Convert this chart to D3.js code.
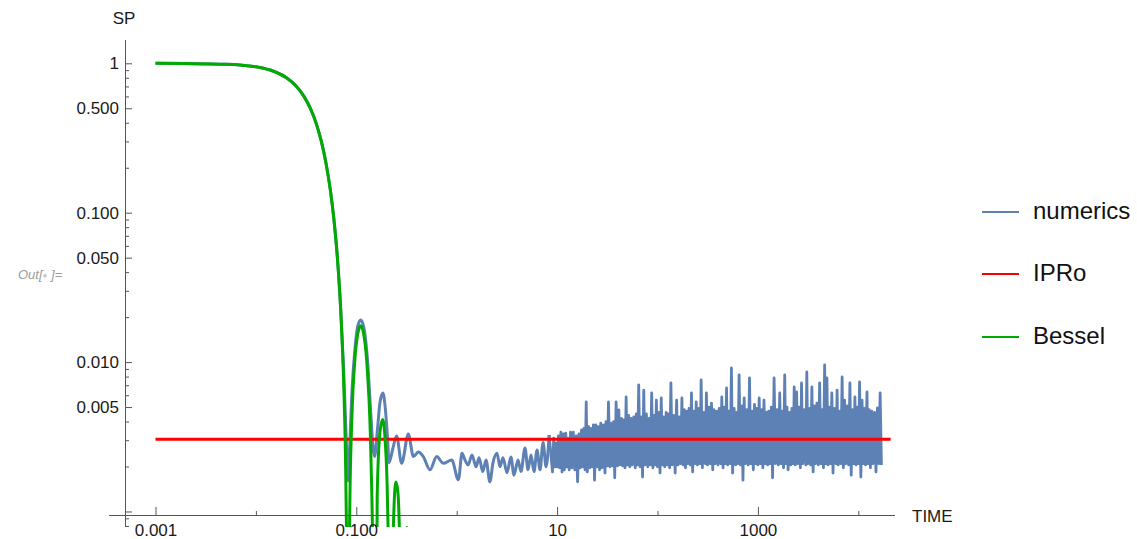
<!DOCTYPE html>
<meta charset="utf-8">
<title>SP vs TIME</title>
<style>
body { margin: 0; background: #fff; }
text { font-family: "Liberation Sans", Arial, sans-serif; }
.axis text { font-size: 17px; fill: #1a1a1a; }
.axis line { stroke: #555; }
</style>
<body>
<svg id="chart" width="1137" height="539"></svg>
<script src="https://cdn.jsdelivr.net/npm/d3@7"></script>
<script>
// ---- data ----
// numerics, smooth part (coincides with Bessel early on)
var numT  = [0.001, 0.002, 0.005, 0.01, 0.015, 0.02, 0.025, 0.03, 0.035, 0.04, 0.045, 0.05, 0.055, 0.06, 0.065, 0.07, 0.075, 0.078, 0.0805, 0.0835,
             0.0862, 0.0905, 0.097, 0.1035, 0.1107, 0.1185, 0.1293, 0.1401, 0.1466, 0.152, 0.1616, 0.1724, 0.1843, 0.194, 0.2047, 0.212,
             0.23, 0.252, 0.283, 0.33, 0.37, 0.415, 0.465, 0.542, 0.632, 0.736, 0.892, 1.04, 1.13, 1.21, 1.3, 1.42, 1.56, 1.67, 1.82, 1.96,
             2.14, 2.3, 2.52, 2.7, 2.89, 3.17, 3.47, 3.72, 4.08, 4.37, 4.79, 5.13, 5.5, 5.89, 6.31, 6.76, 7.25, 7.77, 8.33];
var numSP = [0.9989, 0.9957, 0.9865, 0.9474, 0.8848, 0.8032, 0.7073, 0.6031, 0.4965, 0.393, 0.2976, 0.2137, 0.1437, 0.0889, 0.0488, 0.0222, 0.0085, 0.0042, 0.0024, 0.0016,
             0.0028, 0.0063, 0.0123, 0.0175, 0.0191, 0.0172, 0.0103, 0.0043, 0.0027, 0.00233, 0.0034, 0.0054, 0.0062, 0.005, 0.0031, 0.00212,
             0.0026, 0.0032, 0.0021, 0.0033, 0.00233, 0.0025, 0.00233, 0.0019, 0.00233, 0.0021, 0.00221, 0.00163, 0.00245, 0.00221, 0.00205, 0.00239, 0.00199, 0.00229, 0.00185, 0.00221,
             0.00158, 0.00212, 0.00245, 0.00199, 0.00229, 0.00182, 0.00232, 0.00175, 0.00221, 0.00185, 0.00266, 0.0019, 0.00239, 0.00185, 0.00258, 0.0019, 0.0029, 0.00199, 0.00325];
// numerics, noisy tail
var tailT = [9, 9.25, 9.5, 9.75,
  10, 10.3, 10.6, 10.9, 11.2, 11.5, 11.8, 12.2, 12.5, 12.8, 13.2, 13.6, 14, 14.5, 15, 15.5, 16, 16.5, 17, 17.5,
  18, 18.5, 19, 19.5, 20, 20.6, 21.2, 21.8, 22.4, 23, 23.6, 24.3, 25, 25.8, 26.5, 27.2, 28, 29, 30, 30.7,
  31.5, 32.5, 33.5, 34.5, 35.5, 36.5, 37.5, 38.7, 40, 41.2, 42.5, 43.7, 45, 46.2, 47.5, 48.7, 50, 51.5, 53, 54.5,
  56, 58, 60, 61.5, 63, 65, 67, 69, 71, 73, 75, 77.5, 80, 82.5, 85, 87.5, 90, 92.5, 95, 97.5,
  100, 103, 106, 109, 112, 115, 118, 122, 125, 128, 132, 136, 140, 145, 150, 155, 160, 165, 170, 175,
  180, 185, 190, 195, 200, 206, 212, 218, 224, 230, 236, 243, 250, 258, 265, 272, 280, 290, 300, 307,
  315, 325, 335, 345, 355, 365, 375, 387, 400, 412, 425, 437, 450, 462, 475, 487, 500, 515, 530, 545,
  560, 580, 600, 615, 630, 650, 670, 690, 710, 730, 750, 775, 800, 825, 850, 875, 900, 925, 950, 975,
  1000, 1030, 1060, 1090, 1120, 1150, 1180, 1220, 1250, 1280, 1320, 1360, 1400, 1450, 1500, 1550, 1600, 1650, 1700, 1750,
  1800, 1850, 1900, 1950, 2000, 2060, 2120, 2180, 2240, 2300, 2360, 2430, 2500, 2580, 2650, 2720, 2800, 2900, 3000, 3070,
  3150, 3250, 3350, 3450, 3550, 3650, 3750, 3870, 4000, 4120, 4250, 4370, 4500, 4620, 4750, 4870, 5000, 5150, 5300, 5450,
  5600, 5800, 6000, 6150, 6300, 6500, 6700, 6900, 7100, 7300, 7500, 7750, 8000, 8250, 8500, 8750, 9000, 9250, 9500, 9750,
  10000, 10300, 10600, 10900, 11200, 11500, 11800, 12200, 12500, 12800, 13200, 13600, 14000, 14500, 15000, 15500, 16000, 16500, 17000];
var tailSP = [0.00184, 0.0031, 0.00199, 0.00287, 0.00199, 0.0032, 0.00196, 0.0034, 0.00184, 0.0033,
  0.0019, 0.00335, 0.00199, 0.0031, 0.0019, 0.0034, 0.00196, 0.0034, 0.0019, 0.0032,
  0.00158, 0.0033, 0.00196, 0.00351, 0.00199, 0.0036, 0.0019, 0.00541, 0.00184, 0.0037,
  0.00196, 0.0036, 0.00199, 0.0038, 0.00162, 0.0038, 0.00199, 0.0037, 0.0019, 0.0039,
  0.00196, 0.0038, 0.00181, 0.004, 0.00202, 0.00541, 0.00199, 0.0039, 0.00202, 0.004,
  0.00168, 0.00541, 0.00202, 0.00478, 0.00205, 0.0042, 0.00202, 0.0041, 0.00196, 0.00584,
  0.00205, 0.0044, 0.00199, 0.0042, 0.00205, 0.0043, 0.00196, 0.0045, 0.00205, 0.00703,
  0.00199, 0.0043, 0.0017, 0.0065, 0.00205, 0.0045, 0.00199, 0.0042, 0.00205, 0.00621,
  0.00196, 0.0044, 0.00205, 0.00557, 0.00199, 0.0046, 0.00181, 0.00575, 0.00205, 0.0043,
  0.00199, 0.0046, 0.00205, 0.0045, 0.00196, 0.00725, 0.00205, 0.0044, 0.00181, 0.00557,
  0.00205, 0.0043, 0.00209, 0.00575, 0.00205, 0.0048, 0.00196, 0.0047, 0.00209, 0.0049,
  0.00205, 0.00621, 0.00184, 0.0047, 0.00209, 0.00541, 0.00205, 0.0049, 0.00209, 0.00759,
  0.00196, 0.0046, 0.00209, 0.00621, 0.00205, 0.005, 0.00209, 0.00532, 0.0019, 0.0048,
  0.00209, 0.0047, 0.00205, 0.0049, 0.00209, 0.00584, 0.00196, 0.005, 0.00209, 0.00671,
  0.00205, 0.0047, 0.00209, 0.00913, 0.00181, 0.0049, 0.00205, 0.0046, 0.00209, 0.0082,
  0.00205, 0.0051, 0.00162, 0.00575, 0.00209, 0.0048, 0.00205, 0.00783, 0.00209, 0.0047,
  0.0019, 0.0052, 0.00209, 0.0049, 0.00205, 0.00575, 0.00209, 0.0048, 0.00196, 0.00557,
  0.00209, 0.0046, 0.00205, 0.0047, 0.00209, 0.005, 0.00168, 0.00783, 0.00209, 0.0048,
  0.00205, 0.00621, 0.00209, 0.0047, 0.00196, 0.0082, 0.00209, 0.005, 0.0019, 0.0046,
  0.00205, 0.0049, 0.00209, 0.00681, 0.00205, 0.00631, 0.00209, 0.005, 0.00196, 0.00725,
  0.00209, 0.0048, 0.00205, 0.00859, 0.00209, 0.0049, 0.00205, 0.00681, 0.00184, 0.0051,
  0.00209, 0.00532, 0.00205, 0.00725, 0.00209, 0.0048, 0.00196, 0.00957, 0.00209, 0.00783,
  0.00205, 0.005, 0.00209, 0.00621, 0.00181, 0.0049, 0.00209, 0.0065, 0.00205, 0.0047,
  0.00209, 0.00795, 0.00196, 0.00557, 0.00209, 0.0051, 0.00205, 0.00725, 0.00175, 0.0048,
  0.00209, 0.00584, 0.00205, 0.005, 0.00209, 0.00736, 0.0017, 0.00557, 0.00209, 0.0049,
  0.00205, 0.00631, 0.00209, 0.0048, 0.00196, 0.0047, 0.00209, 0.0046, 0.00184, 0.00493,
  0.00209, 0.00621, 0.00205];
// Bessel (falls to zero between the lobes)
var besT  = [0.001, 0.002, 0.005, 0.01, 0.015, 0.02, 0.025, 0.03, 0.035, 0.04, 0.045, 0.05, 0.055, 0.06, 0.065, 0.07, 0.075, 0.078, 0.08, 0.0815,
             0.0826, 0.0841, 0.0862, 0.0905, 0.097, 0.1034, 0.1078, 0.1107, 0.1185, 0.1293, 0.1401, 0.1466, 0.1512, 0.1616, 0.1724, 0.1832,
             0.194, 0.2047, 0.2155, 0.2193, 0.2263, 0.2371, 0.2478, 0.2586, 0.2694, 0.2802, 0.2872, 0.3, 0.319, 0.335, 0.355];
var besSP = [0.9989, 0.9957, 0.9865, 0.9474, 0.8848, 0.8032, 0.7073, 0.6031, 0.4965, 0.393, 0.2976, 0.2137, 0.1437, 0.0889, 0.0488, 0.0222, 0.00702, 0.00234, 0.000686, 0.000112,
             0.000001, 0.000199, 0.001089, 0.004356, 0.01055, 0.01547, 0.01717, 0.0175, 0.01541, 0.008507, 0.00224, 0.000362, 0.000001, 0.0013, 0.00344, 0.00413,
             0.002971, 0.001153, 0.0000757, 0.000001, 0.000226, 0.001033, 0.001578, 0.001386, 0.000701, 0.000117, 0.000001, 0.0003, 0.00078, 0.0004, 0.000001];
// IPRo constant level
var iproT  = [0.001, 21000];
var iproSP = [0.00305, 0.00305];

var xMajor = [0.001, 0.1, 10, 1000];
var xLabels = ["0.001", "0.100", "10", "1000"];
var xMinor = [0.01, 1, 100, 10000];
var yMajor = [1, 0.5, 0.1, 0.05, 0.01, 0.005, 0.001];
var yLabels = ["1", "0.500", "0.100", "0.050", "0.010", "0.005", ""];
var yMinor = [0.9, 0.8, 0.7, 0.6, 0.4, 0.3, 0.2, 0.09, 0.08, 0.07, 0.06, 0.04, 0.03, 0.02,
              0.009, 0.008, 0.007, 0.006, 0.004, 0.003, 0.002, 0.0009, 0.0008];

var seriesNames = ["numerics", "IPRo", "Bessel"];
var seriesColors = ["#5e81b5", "#ff0000", "#00aa00"];

// ---- drawing ----
var svg = d3.select("#chart");

var x = d3.scaleLog().domain([3.443e-4, 23204]).range([109, 895]);
var y = d3.scaleLog().domain([7.873e-4, 1.432]).range([527, 40]);
var axisT = 5e-4, axisSP = 9.475e-4;   // where the axes cross

svg.append("clipPath").attr("id", "plotclip")
  .append("rect").attr("x", 100).attr("y", 30).attr("width", 800).attr("height", 497);

function zip(ts, vs) { return ts.map(function(t, i) { return [t, vs[i]]; }); }

var smooth = d3.line()
    .x(function(d) { return x(d[0]); })
    .y(function(d) { return y(d[1]); })
    .curve(d3.curveMonotoneX);
var jagged = d3.line()
    .x(function(d) { return x(d[0]); })
    .y(function(d) { return y(d[1]); });

var numPts = zip(numT, numSP);
var plot = svg.append("g").attr("clip-path", "url(#plotclip)")
    .attr("fill", "none").attr("stroke-linejoin", "round");
plot.append("path")
    .datum(numPts)
    .attr("d", smooth)
    .attr("stroke", seriesColors[0]).attr("stroke-width", 3);
plot.append("path")
    .datum([numPts[numPts.length - 1]].concat(zip(tailT, tailSP)))
    .attr("d", jagged)
    .attr("stroke", seriesColors[0]).attr("stroke-width", 2.8);
plot.append("path")
    .datum(zip(iproT, iproSP))
    .attr("d", jagged)
    .attr("stroke", seriesColors[1]).attr("stroke-width", 3);
plot.append("path")
    .datum(zip(besT, besSP))
    .attr("d", smooth)
    .attr("stroke", seriesColors[2]).attr("stroke-width", 3);

// x axis
var gx = svg.append("g").attr("class", "axis")
    .attr("transform", "translate(0," + Math.round(y(axisSP)) + ")")
    .call(d3.axisBottom(x)
      .tickValues(xMajor.concat(xMinor))
      .tickSize(-8).tickPadding(9)
      .tickFormat(function(d) { var i = xMajor.indexOf(d); return i >= 0 ? xLabels[i] : ""; }));
gx.select(".domain").remove();
gx.selectAll(".tick line").filter(function(d) { return xMajor.indexOf(d) < 0; }).attr("y2", -4);
gx.append("line").attr("x1", x.range()[0]).attr("x2", x.range()[1]).attr("y1", 0.5).attr("y2", 0.5);

// y axis
var gy = svg.append("g").attr("class", "axis")
    .attr("transform", "translate(" + Math.round(x(axisT)) + ",0)")
    .call(d3.axisLeft(y)
      .tickValues(yMajor.concat(yMinor))
      .tickSize(-7).tickPadding(6)
      .tickFormat(function(d) { var i = yMajor.indexOf(d); return i >= 0 ? yLabels[i] : ""; }));
gy.select(".domain").remove();
gy.selectAll(".tick line").filter(function(d) { return yMajor.indexOf(d) < 0; }).attr("x2", 4);
gy.append("line").attr("x1", 0.5).attr("x2", 0.5).attr("y1", y.range()[1]).attr("y2", y.range()[0]);

// axis titles
svg.append("text").attr("x", 912).attr("y", 522)
    .attr("font-size", 17).attr("fill", "#1a1a1a").text("TIME");
svg.append("text").attr("x", 124).attr("y", 24).attr("text-anchor", "middle")
    .attr("font-size", 17).attr("fill", "#1a1a1a").text("SP");

// Mathematica output label
var outLabel = svg.append("text").attr("x", 18).attr("y", 279)
    .attr("font-size", 13).attr("font-style", "italic").attr("fill", "#9a9a9a");
outLabel.append("tspan").text("Out[");
outLabel.append("tspan").attr("font-size", 8).attr("fill", "#c8c8c8").attr("dy", -1).text("\u25CF");
outLabel.append("tspan").attr("dy", 1).text(" ]=");

// legend
var legendY = [212, 274, 337];
var lg = svg.append("g").selectAll("g").data(seriesNames).enter().append("g")
    .attr("transform", function(d, i) { return "translate(982," + legendY[i] + ")"; });
lg.append("line").attr("x1", 0).attr("x2", 37).attr("y1", 0).attr("y2", 0)
    .attr("stroke", function(d, i) { return seriesColors[i]; }).attr("stroke-width", 2.2);
lg.append("text").attr("x", 51).attr("dy", "0.3em")
    .attr("font-size", 24).attr("fill", "#111").text(function(d) { return d; });
</script>
</body>
